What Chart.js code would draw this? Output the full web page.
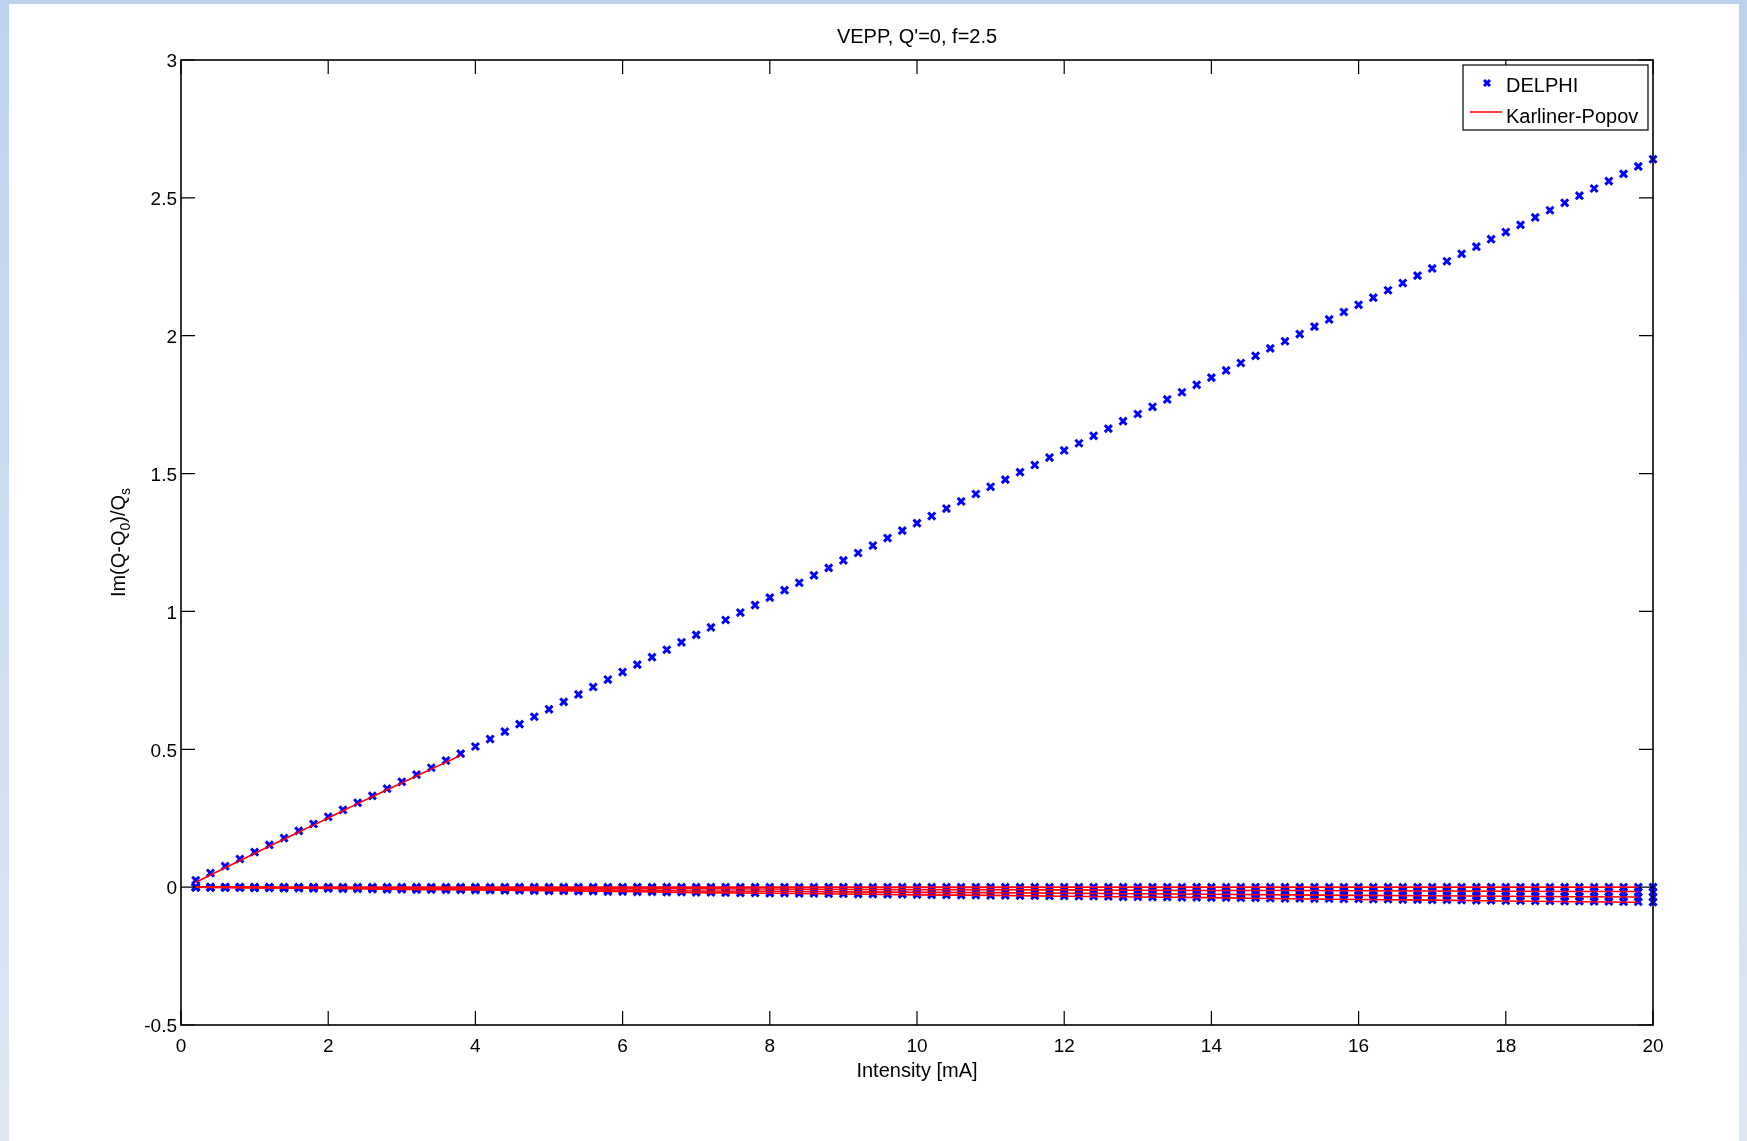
<!DOCTYPE html>
<html>
<head>
<meta charset="utf-8">
<title>VEPP, Q'=0, f=2.5</title>
<script src="https://cdn.jsdelivr.net/npm/chart.js@4.4.1/dist/chart.umd.min.js"></script>
<style>
  html, body { margin: 0; padding: 0; }
  body {
    width: 1747px; height: 1141px; overflow: hidden; position: relative;
    background: linear-gradient(to bottom, #bcd2ef 0%, #dfe7f3 100%);
  }
  #sheet { position: absolute; left: 9px; top: 4px; width: 1730px; height: 1137px; background: #fff; }
  #chart { position: absolute; left: 0; top: 0; }
</style>
</head>
<body>
<div id="sheet"></div>
<canvas id="chart" width="1747" height="1141"></canvas>
<script>
// beam intensity [mA], one DELPHI point every 0.2 mA
const intensity = [
  0.2, 0.4, 0.6, 0.8, 1.0, 1.2, 1.4, 1.6, 1.8, 2.0,
  2.2, 2.4, 2.6, 2.8, 3.0, 3.2, 3.4, 3.6, 3.8, 4.0,
  4.2, 4.4, 4.6, 4.8, 5.0, 5.2, 5.4, 5.6, 5.8, 6.0,
  6.2, 6.4, 6.6, 6.8, 7.0, 7.2, 7.4, 7.6, 7.8, 8.0,
  8.2, 8.4, 8.6, 8.8, 9.0, 9.2, 9.4, 9.6, 9.8, 10.0,
  10.2, 10.4, 10.6, 10.8, 11.0, 11.2, 11.4, 11.6, 11.8, 12.0,
  12.2, 12.4, 12.6, 12.8, 13.0, 13.2, 13.4, 13.6, 13.8, 14.0,
  14.2, 14.4, 14.6, 14.8, 15.0, 15.2, 15.4, 15.6, 15.8, 16.0,
  16.2, 16.4, 16.6, 16.8, 17.0, 17.2, 17.4, 17.6, 17.8, 18.0,
  18.2, 18.4, 18.6, 18.8, 19.0, 19.2, 19.4, 19.6, 19.8, 20.0
];

// DELPHI, unstable mode
const delphiUpper = [
  0.025, 0.051, 0.076, 0.102, 0.127, 0.153, 0.178, 0.204, 0.229, 0.255,
  0.280, 0.306, 0.331, 0.357, 0.382, 0.408, 0.433, 0.459, 0.484, 0.510,
  0.537, 0.564, 0.591, 0.618, 0.645, 0.672, 0.699, 0.726, 0.753, 0.780,
  0.807, 0.834, 0.861, 0.888, 0.915, 0.942, 0.969, 0.996, 1.023, 1.050,
  1.077, 1.104, 1.131, 1.158, 1.185, 1.212, 1.239, 1.266, 1.293, 1.320,
  1.346, 1.373, 1.399, 1.426, 1.452, 1.478, 1.505, 1.531, 1.558, 1.584,
  1.610, 1.637, 1.663, 1.690, 1.716, 1.742, 1.769, 1.795, 1.822, 1.848,
  1.874, 1.901, 1.927, 1.954, 1.980, 2.006, 2.033, 2.059, 2.086, 2.112,
  2.138, 2.165, 2.191, 2.218, 2.244, 2.270, 2.297, 2.323, 2.350, 2.376,
  2.402, 2.429, 2.455, 2.482, 2.508, 2.534, 2.561, 2.587, 2.614, 2.640
];

// DELPHI, damped modes close to zero
const delphiA = [
  0, 0, 0, 0, 0, 0, 0, 0, 0, 0,
  0, 0, 0, 0, 0, 0, 0, 0, 0, 0,
  0, 0, 0, 0, 0, 0, 0, 0, 0, 0,
  0, 0, 0, 0, 0, 0, 0, 0, 0, 0,
  0, 0, 0, 0, 0, 0, 0, 0, 0, 0,
  0, 0, 0, 0, 0, 0, 0, 0, 0, 0,
  0, 0, 0, 0, 0, 0, 0, 0, 0, 0,
  0, 0, 0, 0, 0, 0, 0, 0, 0, 0,
  0, 0, 0, 0, 0, 0, 0, 0, 0, 0,
  0, 0, 0, 0, 0, 0, 0, 0, 0, 0
];
const delphiB = [
  0, 0, -0.001, -0.001, -0.001, -0.001, -0.001, -0.001, -0.002, -0.002,
  -0.002, -0.002, -0.002, -0.003, -0.003, -0.003, -0.003, -0.003, -0.003, -0.004,
  -0.004, -0.004, -0.004, -0.004, -0.005, -0.005, -0.005, -0.005, -0.005, -0.005,
  -0.006, -0.006, -0.006, -0.006, -0.006, -0.006, -0.007, -0.007, -0.007, -0.007,
  -0.007, -0.008, -0.008, -0.008, -0.008, -0.008, -0.008, -0.009, -0.009, -0.009,
  -0.009, -0.009, -0.010, -0.010, -0.010, -0.010, -0.010, -0.010, -0.011, -0.011,
  -0.011, -0.011, -0.011, -0.012, -0.012, -0.012, -0.012, -0.012, -0.012, -0.013,
  -0.013, -0.013, -0.013, -0.013, -0.014, -0.014, -0.014, -0.014, -0.014, -0.014,
  -0.015, -0.015, -0.015, -0.015, -0.015, -0.015, -0.016, -0.016, -0.016, -0.016,
  -0.016, -0.017, -0.017, -0.017, -0.017, -0.017, -0.017, -0.018, -0.018, -0.018
];
const delphiC = [
  0, -0.001, -0.001, -0.001, -0.002, -0.002, -0.003, -0.003, -0.003, -0.004,
  -0.004, -0.004, -0.005, -0.005, -0.005, -0.006, -0.006, -0.006, -0.007, -0.007,
  -0.008, -0.008, -0.008, -0.009, -0.009, -0.009, -0.010, -0.010, -0.010, -0.011,
  -0.011, -0.012, -0.012, -0.012, -0.013, -0.013, -0.013, -0.014, -0.014, -0.014,
  -0.015, -0.015, -0.015, -0.016, -0.016, -0.017, -0.017, -0.017, -0.018, -0.018,
  -0.018, -0.019, -0.019, -0.019, -0.020, -0.020, -0.021, -0.021, -0.021, -0.022,
  -0.022, -0.022, -0.023, -0.023, -0.023, -0.024, -0.024, -0.024, -0.025, -0.025,
  -0.026, -0.026, -0.026, -0.027, -0.027, -0.027, -0.028, -0.028, -0.028, -0.029,
  -0.029, -0.030, -0.030, -0.030, -0.031, -0.031, -0.031, -0.032, -0.032, -0.032,
  -0.033, -0.033, -0.033, -0.034, -0.034, -0.035, -0.035, -0.035, -0.036, -0.036
];
const delphiD = [
  -0.001, -0.001, -0.002, -0.002, -0.003, -0.003, -0.004, -0.004, -0.005, -0.005,
  -0.006, -0.006, -0.007, -0.008, -0.008, -0.009, -0.009, -0.010, -0.010, -0.011,
  -0.011, -0.012, -0.012, -0.013, -0.014, -0.014, -0.015, -0.015, -0.016, -0.016,
  -0.017, -0.017, -0.018, -0.018, -0.019, -0.019, -0.020, -0.021, -0.021, -0.022,
  -0.022, -0.023, -0.023, -0.024, -0.024, -0.025, -0.025, -0.026, -0.026, -0.027,
  -0.028, -0.028, -0.029, -0.029, -0.030, -0.030, -0.031, -0.031, -0.032, -0.032,
  -0.033, -0.033, -0.034, -0.035, -0.035, -0.036, -0.036, -0.037, -0.037, -0.038,
  -0.038, -0.039, -0.039, -0.040, -0.041, -0.041, -0.042, -0.042, -0.043, -0.043,
  -0.044, -0.044, -0.045, -0.045, -0.046, -0.046, -0.047, -0.048, -0.048, -0.049,
  -0.049, -0.050, -0.050, -0.051, -0.051, -0.052, -0.052, -0.053, -0.053, -0.054
];

// Karliner-Popov: unstable branch only computed up to 3.8 mA
const kpUpper = [
  0.018, 0.044, 0.070, 0.096, 0.122, 0.148, 0.174, 0.200, 0.225, 0.251,
  0.277, 0.303, 0.328, 0.353, 0.378, 0.403, 0.428, 0.453, 0.478
];
// Karliner-Popov damped branches
const kpIntensity = [0.2, 1, 2, 3, 4, 5, 6, 7, 8, 9, 10, 11, 12, 13, 14, 15, 16, 17, 18, 19, 19.8];
const kpLow1 = [0, 0, 0, 0, 0, 0, 0, 0, 0, 0, 0, 0, 0, 0, 0, 0, 0, 0, 0, 0, 0];
const kpLow2 = [0, -0.001, -0.002, -0.002, -0.003, -0.004, -0.006, -0.006, -0.007, -0.008, -0.009,
  -0.009, -0.010, -0.011, -0.012, -0.012, -0.013, -0.014, -0.015, -0.016, -0.016];
const kpLow3 = [0, -0.002, -0.003, -0.005, -0.007, -0.009, -0.011, -0.014, -0.015, -0.017, -0.019,
  -0.020, -0.022, -0.024, -0.026, -0.028, -0.030, -0.031, -0.033, -0.035, -0.036];
const kpLow4 = [0, -0.002, -0.005, -0.008, -0.010, -0.013, -0.016, -0.020, -0.022, -0.025, -0.028,
  -0.030, -0.033, -0.036, -0.038, -0.042, -0.045, -0.047, -0.050, -0.053, -0.055];

const xTicks = [0, 2, 4, 6, 8, 10, 12, 14, 16, 18, 20];
const yTicks = [-0.5, 0, 0.5, 1, 1.5, 2, 2.5, 3];

const FONT = "'Liberation Sans', Arial, Helvetica, sans-serif";
const BLUE = '#0000ff';
const RED = '#ff0000';
const TICK_LEN = 14;

function toPoints(xs, ys) {
  return ys.map((v, i) => ({ x: xs[i], y: v }));
}

function delphiSet(ys, label) {
  return {
    label, data: toPoints(intensity, ys), order: 1, clip: false,
    showLine: false, pointStyle: 'crossRot', pointRadius: 5,
    pointBorderWidth: 3, pointBorderColor: BLUE, pointBackgroundColor: BLUE
  };
}

function kpSet(xs, ys, label) {
  return {
    label, data: toPoints(xs, ys), order: 0,
    showLine: true, borderColor: RED, borderWidth: 1.6, pointRadius: 0
  };
}

// title, axis labels, MATLAB style box with inward ticks and the legend
const matlabAxes = {
  id: 'matlabAxes',
  afterDatasetsDraw(chart) {
    const { ctx, chartArea: a, scales: { x, y } } = chart;
    ctx.save();

    ctx.strokeStyle = '#000';
    ctx.lineWidth = 1.2;
    ctx.beginPath();
    xTicks.forEach(v => {
      const px = x.getPixelForValue(v);
      ctx.moveTo(px, a.bottom); ctx.lineTo(px, a.bottom - TICK_LEN);
      ctx.moveTo(px, a.top); ctx.lineTo(px, a.top + TICK_LEN);
    });
    yTicks.forEach(v => {
      const py = y.getPixelForValue(v);
      ctx.moveTo(a.left, py); ctx.lineTo(a.left + TICK_LEN, py);
      ctx.moveTo(a.right, py); ctx.lineTo(a.right - TICK_LEN, py);
    });
    ctx.stroke();
    ctx.lineWidth = 1.6;
    ctx.strokeRect(a.left, a.top, a.right - a.left, a.bottom - a.top);

    const midX = (a.left + a.right) / 2;
    const midY = (a.top + a.bottom) / 2;
    ctx.fillStyle = '#000';
    ctx.textBaseline = 'middle';
    ctx.textAlign = 'center';
    ctx.font = `20px ${FONT}`;
    ctx.fillText("VEPP, Q'=0, f=2.5", midX, a.top - 23);
    ctx.fillText('Intensity [mA]', midX, a.bottom + 46);

    // y label with subscripts
    const parts = [['Im(Q-Q', 20, 0], ['0', 14, 7], [')/Q', 20, 0], ['s', 14, 7]];
    let total = 0;
    parts.forEach(([t, s]) => { ctx.font = `${s}px ${FONT}`; total += ctx.measureText(t).width; });
    ctx.translate(a.left - 62, midY);
    ctx.rotate(-Math.PI / 2);
    ctx.textAlign = 'left';
    let cx = -total / 2;
    parts.forEach(([t, s, dy]) => {
      ctx.font = `${s}px ${FONT}`;
      ctx.fillText(t, cx, dy);
      cx += ctx.measureText(t).width;
    });
    ctx.setTransform(1, 0, 0, 1, 0, 0);

    // legend box in the upper right corner
    const bw = 185, bh = 65;
    const bx = a.right - 5 - bw, by = a.top + 5;
    ctx.fillStyle = '#fff';
    ctx.fillRect(bx, by, bw, bh);
    ctx.lineWidth = 1.2;
    ctx.strokeStyle = '#000';
    ctx.strokeRect(bx, by, bw, bh);

    ctx.strokeStyle = BLUE;
    ctx.lineWidth = 3;
    ctx.beginPath();
    ctx.moveTo(bx + 21, by + 15); ctx.lineTo(bx + 27, by + 21);
    ctx.moveTo(bx + 27, by + 15); ctx.lineTo(bx + 21, by + 21);
    ctx.stroke();
    ctx.strokeStyle = RED;
    ctx.lineWidth = 1.5;
    ctx.beginPath();
    ctx.moveTo(bx + 7, by + 47); ctx.lineTo(bx + 39, by + 47);
    ctx.stroke();

    ctx.fillStyle = '#000';
    ctx.font = `20px ${FONT}`;
    ctx.textAlign = 'left';
    ctx.fillText('DELPHI', bx + 43, by + 21);
    ctx.fillText('Karliner-Popov', bx + 43, by + 52);

    ctx.restore();
  }
};

new Chart(document.getElementById('chart'), {
  type: 'scatter',
  data: {
    datasets: [
      kpSet(intensity.slice(0, kpUpper.length), kpUpper, 'Karliner-Popov'),
      kpSet(kpIntensity, kpLow1, 'Karliner-Popov 1'),
      kpSet(kpIntensity, kpLow2, 'Karliner-Popov 2'),
      kpSet(kpIntensity, kpLow3, 'Karliner-Popov 3'),
      kpSet(kpIntensity, kpLow4, 'Karliner-Popov 4'),
      delphiSet(delphiUpper, 'DELPHI'),
      delphiSet(delphiA, 'DELPHI A'),
      delphiSet(delphiB, 'DELPHI B'),
      delphiSet(delphiC, 'DELPHI C'),
      delphiSet(delphiD, 'DELPHI D')
    ]
  },
  options: {
    responsive: false,
    animation: false,
    events: [],
    layout: { padding: { top: 60, right: 94, bottom: 0, left: 0 } },
    plugins: {
      legend: { display: false },
      title: { display: false },
      tooltip: { enabled: false }
    },
    scales: {
      x: {
        type: 'linear', min: 0, max: 20,
        grid: { display: false, drawTicks: false },
        border: { display: false },
        afterBuildTicks: scale => { scale.ticks = xTicks.map(v => ({ value: v })); },
        afterFit: scale => { scale.height = 116; },
        ticks: {
          padding: 10, color: '#000', maxRotation: 0, autoSkip: false,
          font: { family: FONT, size: 19 }, callback: v => String(v)
        }
      },
      y: {
        type: 'linear', min: -0.5, max: 3,
        grid: { display: false, drawTicks: false },
        border: { display: false },
        afterBuildTicks: scale => { scale.ticks = yTicks.map(v => ({ value: v })); },
        afterFit: scale => { scale.width = 181; },
        ticks: {
          padding: 4, color: '#000', autoSkip: false, labelOffset: 2,
          font: { family: FONT, size: 19 }, callback: v => String(v)
        }
      }
    }
  },
  plugins: [matlabAxes]
});
</script>
</body>
</html>
